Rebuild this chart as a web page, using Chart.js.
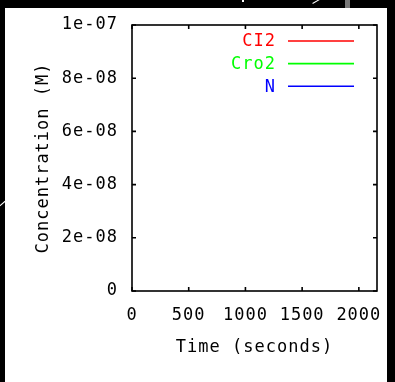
<!DOCTYPE html>
<html lang="en">
  <head>
    <meta charset="UTF-8" />
    <title>Concentration vs Time</title>
    <script src="https://cdn.jsdelivr.net/npm/chart.js"></script>
    <style>
      html, body { margin: 0; padding: 0; background: #000; overflow: hidden; }
      #paper { position: absolute; left: 5px; top: 8px; width: 382px; height: 374px; background: #fff; }
      .mark { position: absolute; background: #fff; }
      #wrap { position: absolute; left: 0; top: 0; width: 395px; height: 382px; }
    </style>
  </head>
  <body>
    <div id="paper"></div>
    <!-- little bits of the background around the paper -->
    <div class="mark" style="left:-1px;top:203px;width:7px;height:1px;transform:rotate(-40deg)"></div>
    <div class="mark" style="left:242px;top:0;width:2px;height:2px"></div>
    <div class="mark" style="left:312px;top:1px;width:8px;height:1px;transform:rotate(-30deg)"></div>
    <div class="mark" style="left:345px;top:0;width:5px;height:8px;background:#777"></div>
    <div id="wrap"><canvas id="myChart" width="395" height="382"></canvas></div>

    <script>
      // the series are empty in the picture, only the key is shown
      const timeSeconds = [];
      const ci2 = [];
      const cro2 = [];
      const nProtein = [];

      const seriesNames = ["CI2", "Cro2", "N"];
      const seriesColors = ["#ff0000", "#00ff00", "#0000ff"];

      const xTicks = [0, 500, 1000, 1500, 2000];
      const xTickLabels = ["0", "500", "1000", "1500", "2000"];
      const xMax = 2160;
      const yTicks = [0, 2e-8, 4e-8, 6e-8, 8e-8, 1e-7];
      const yTickLabels = ["0", "2e-08", "4e-08", "6e-08", "8e-08", "1e-07"];

      const FONT = "'DejaVu Sans Mono', 'Liberation Mono', monospace";
      Chart.defaults.font.family = FONT;
      Chart.defaults.font.size = 17;
      Chart.defaults.color = "#000";

      function points(ys) {
        return timeSeconds.map((t, i) => ({ x: t, y: ys[i] }));
      }

      // wider letters like the gnuplot bitmap font
      const spacing = {
        id: "spacing",
        beforeUpdate(c) { c.ctx.letterSpacing = "1px"; },
        beforeDraw(c) { c.ctx.letterSpacing = "1px"; },
      };

      // border with inward ticks on all four sides + key in the top right
      const frame = {
        id: "frame",
        afterDatasetsDraw(c) {
          const ctx = c.ctx;
          const a = c.chartArea;
          const xs = c.scales.x, ys = c.scales.y;
          const t = 4;
          ctx.save();
          ctx.strokeStyle = "#000";
          ctx.lineWidth = 1.6;
          ctx.strokeRect(a.left, a.top, a.right - a.left, a.bottom - a.top);
          ctx.beginPath();
          xTicks.forEach((v) => {
            const px = xs.getPixelForValue(v);
            ctx.moveTo(px, a.bottom); ctx.lineTo(px, a.bottom - t);
            ctx.moveTo(px, a.top); ctx.lineTo(px, a.top + t);
          });
          yTicks.forEach((v) => {
            const py = ys.getPixelForValue(v);
            ctx.moveTo(a.left, py); ctx.lineTo(a.left + t, py);
            ctx.moveTo(a.right, py); ctx.lineTo(a.right - t, py);
          });
          ctx.stroke();

          ctx.font = "17px " + FONT;
          ctx.textAlign = "right";
          ctx.textBaseline = "middle";
          c.data.datasets.forEach((d, i) => {
            const y = a.top + 16 + i * 22.6;
            ctx.fillStyle = d.borderColor;
            ctx.fillText(d.label, a.right - 101, y + 1);
            ctx.strokeStyle = d.borderColor;
            ctx.lineWidth = 1.6;
            ctx.beginPath();
            ctx.moveTo(a.right - 89, y);
            ctx.lineTo(a.right - 23, y);
            ctx.stroke();
          });
          ctx.restore();
        },
      };

      const data = {
        datasets: [ci2, cro2, nProtein].map((ys, i) => ({
          label: seriesNames[i],
          data: points(ys),
          borderColor: seriesColors[i],
          backgroundColor: seriesColors[i],
          borderWidth: 1.5,
          pointRadius: 0,
          fill: false,
        })),
      };

      const config = {
        type: "line",
        data: data,
        options: {
          responsive: false,
          animation: false,
          devicePixelRatio: 1,
          layout: { padding: { top: 25, right: 18, left: 0, bottom: 0 } },
          plugins: { legend: { display: false }, tooltip: { enabled: false } },
          scales: {
            x: {
              type: "linear",
              min: 0,
              max: xMax,
              grid: { display: false, drawTicks: false },
              border: { display: false },
              afterBuildTicks: (s) => { s.ticks = xTicks.map((v) => ({ value: v })); },
              afterFit: (s) => { s.height = 91; s.paddingLeft = 0; s.paddingRight = 0; },
              ticks: { padding: 14, maxRotation: 0, autoSkip: false, color: "#000", callback: (v, i) => xTickLabels[i] },
              title: { display: true, text: "Time (seconds)", color: "#000", padding: { top: 0, bottom: 24 } },
            },
            y: {
              min: 0,
              max: 1e-7,
              grid: { display: false, drawTicks: false },
              border: { display: false },
              afterBuildTicks: (s) => { s.ticks = yTicks.map((v) => ({ value: v })); },
              afterFit: (s) => { s.width = 132; s.paddingTop = 0; s.paddingBottom = 0; },
              ticks: { padding: 14, color: "#000", callback: (v, i) => yTickLabels[i] },
              title: { display: true, text: "Concentration (M)", color: "#000", padding: { top: 33, bottom: 0 } },
            },
          },
        },
        plugins: [spacing, frame],
      };

      const myChart = new Chart(document.getElementById("myChart"), config);
    </script>
  </body>
</html>
